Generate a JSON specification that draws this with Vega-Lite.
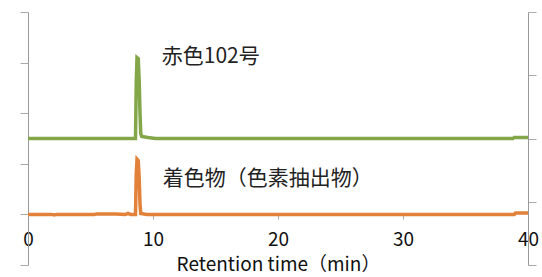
{
  "$schema": "https://vega.github.io/schema/vega-lite/v6.json",
  "width": 500,
  "height": 253,
  "autosize": {"type": "none"},
  "padding": {"left": 28, "top": 12, "right": 14, "bottom": 12},
  "background": "white",
  "config": {"view": {"stroke": null}, "font": "Noto Sans CJK JP"},
  "datasets": {
    "trace": [
      {"t": 0, "v": 2.5, "series": "赤色102号"},
      {"t": 3, "v": 2.5, "series": "赤色102号"},
      {"t": 6, "v": 2.5, "series": "赤色102号"},
      {"t": 8.6, "v": 2.5, "series": "赤色102号"},
      {"t": 8.66, "v": 3.6, "series": "赤色102号"},
      {"t": 8.72, "v": 4.1, "series": "赤色102号"},
      {"t": 8.82, "v": 4.08, "series": "赤色102号"},
      {"t": 8.9, "v": 3.6, "series": "赤色102号"},
      {"t": 8.96, "v": 3.0, "series": "赤色102号"},
      {"t": 9.02, "v": 2.6, "series": "赤色102号"},
      {"t": 9.1, "v": 2.54, "series": "赤色102号"},
      {"t": 9.6, "v": 2.52, "series": "赤色102号"},
      {"t": 10.2, "v": 2.5, "series": "赤色102号"},
      {"t": 15, "v": 2.5, "series": "赤色102号"},
      {"t": 20, "v": 2.5, "series": "赤色102号"},
      {"t": 25, "v": 2.5, "series": "赤色102号"},
      {"t": 30, "v": 2.5, "series": "赤色102号"},
      {"t": 35, "v": 2.5, "series": "赤色102号"},
      {"t": 38.8, "v": 2.5, "series": "赤色102号"},
      {"t": 38.9, "v": 2.52, "series": "赤色102号"},
      {"t": 40, "v": 2.52, "series": "赤色102号"},
      {"t": 0, "v": 1.0, "series": "着色物"},
      {"t": 1.9, "v": 1.0, "series": "着色物"},
      {"t": 2.1, "v": 0.99, "series": "着色物"},
      {"t": 2.3, "v": 1.0, "series": "着色物"},
      {"t": 5.3, "v": 1.0, "series": "着色物"},
      {"t": 5.5, "v": 1.01, "series": "着色物"},
      {"t": 7.0, "v": 1.01, "series": "着色物"},
      {"t": 7.8, "v": 1.0, "series": "着色物"},
      {"t": 8.0, "v": 1.02, "series": "着色物"},
      {"t": 8.2, "v": 1.0, "series": "着色物"},
      {"t": 8.6, "v": 1.0, "series": "着色物"},
      {"t": 8.66, "v": 1.8, "series": "着色物"},
      {"t": 8.72, "v": 2.09, "series": "着色物"},
      {"t": 8.82, "v": 2.06, "series": "着色物"},
      {"t": 8.9, "v": 1.7, "series": "着色物"},
      {"t": 8.96, "v": 1.2, "series": "着色物"},
      {"t": 9.02, "v": 1.02, "series": "着色物"},
      {"t": 9.5, "v": 1.0, "series": "着色物"},
      {"t": 20, "v": 1.0, "series": "着色物"},
      {"t": 30, "v": 1.0, "series": "着色物"},
      {"t": 38.9, "v": 1.0, "series": "着色物"},
      {"t": 39.0, "v": 1.03, "series": "着色物"},
      {"t": 40, "v": 1.03, "series": "着色物"}
    ],
    "labels": [
      {"t": 10.7, "v": 4.11, "label": "赤色102号"},
      {"t": 10.78, "v": 1.7, "label": "着色物（色素抽出物）"}
    ]
  },
  "layer": [
    {
      "data": {"name": "trace"},
      "mark": {"type": "line", "strokeWidth": 3.5},
      "encoding": {
        "x": {
          "field": "t", "type": "quantitative",
          "scale": {"domain": [0, 40], "nice": false},
          "axis": {
            "orient": "bottom", "offset": -51, "domain": false,
            "values": [0, 10, 20, 30, 40], "grid": false,
            "tickColor": "#aaaaaa", "tickSize": 5,
            "labelFontSize": 19, "labelColor": "#111111", "labelPadding": 11,
            "labelFont": "Noto Sans CJK JP", "labelFlush": false,
            "title": "Retention time（min）", "titleFontSize": 19,
            "titleFontWeight": "normal", "titleColor": "#111111",
            "titlePadding": 6, "titleFont": "Noto Sans CJK JP"
          }
        },
        "y": {
          "field": "v", "type": "quantitative",
          "scale": {"domain": [0, 5], "nice": false},
          "axis": {
            "orient": "left", "values": [0, 1, 2, 3, 4, 5], "labels": false,
            "title": null, "grid": false, "domainColor": "#999999",
            "tickColor": "#aaaaaa", "tickSize": 8
          }
        },
        "color": {
          "field": "series", "type": "nominal",
          "scale": {"domain": ["赤色102号", "着色物"], "range": ["#82a648", "#e2823a"]},
          "legend": null
        }
      }
    },
    {
      "data": {"name": "labels"},
      "mark": {"type": "text", "align": "left", "baseline": "middle", "fontSize": 21, "font": "Noto Sans CJK JP", "color": "#222222"},
      "encoding": {
        "x": {"field": "t", "type": "quantitative"},
        "y": {
          "field": "v", "type": "quantitative",
          "axis": {
            "orient": "right", "values": [0, 1.25, 2.5, 3.75, 5], "labels": false,
            "title": null, "grid": false, "domainColor": "#999999",
            "tickColor": "#aaaaaa", "tickSize": 8
          }
        },
        "text": {"field": "label"}
      }
    }
  ],
  "resolve": {"axis": {"y": "independent"}}
}
